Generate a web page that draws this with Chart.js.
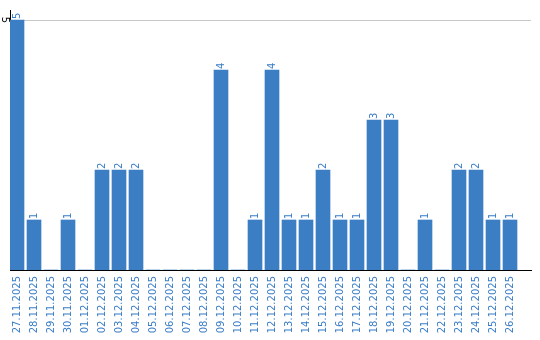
<!DOCTYPE html>
<html>
<head>
<meta charset="utf-8">
<script src="https://cdn.jsdelivr.net/npm/chart.js@4"></script>
<style>
html,body{margin:0;padding:0;background:#fff;}
#wrap{width:540px;height:340px;position:relative;}
</style>
</head>
<body>
<div id="wrap"><canvas id="c"></canvas></div>
<script>
const categories = ["27.11.2025","28.11.2025","29.11.2025","30.11.2025","01.12.2025","02.12.2025","03.12.2025","04.12.2025","05.12.2025","06.12.2025","07.12.2025","08.12.2025","09.12.2025","10.12.2025","11.12.2025","12.12.2025","13.12.2025","14.12.2025","15.12.2025","16.12.2025","17.12.2025","18.12.2025","19.12.2025","20.12.2025","21.12.2025","22.12.2025","23.12.2025","24.12.2025","25.12.2025","26.12.2025"];
const values = [5,1,0,1,0,2,2,2,0,0,0,0,4,0,1,4,1,1,2,1,1,3,3,0,1,0,2,2,1,1];
const yTicks = [5];

const BLUE = '#3b7ec4';
const LABEL_BLUE = '#3a7dc6';
const FONT = 'DejaVu Sans';

const dataLabels = {
  id: 'dataLabels',
  afterDatasetsDraw(chart) {
    const ctx = chart.ctx;
    const meta = chart.getDatasetMeta(0);
    ctx.save();
    ctx.font = '10px "' + FONT + '"';
    ctx.fillStyle = LABEL_BLUE;
    ctx.textAlign = 'left';
    ctx.textBaseline = 'middle';
    meta.data.forEach((el, i) => {
      const v = values[i];
      if (!v) return;
      ctx.save();
      ctx.translate(el.x, el.y - 1);
      ctx.rotate(-Math.PI / 2);
      ctx.fillText(String(v), 0, 0);
      ctx.restore();
    });
    // y tick labels, rotated clockwise, taken from the y scale
    const y = chart.scales.y;
    ctx.fillStyle = '#000';
    ctx.textAlign = 'center';
    ctx.textBaseline = 'middle';
    y.ticks.forEach(t => {
      ctx.save();
      ctx.translate(y.right - 5.5, y.getPixelForValue(t.value));
      ctx.rotate(Math.PI / 2);
      ctx.fillText(String(t.value), 0, 0);
      ctx.restore();
    });
    ctx.restore();
  }
};

new Chart(document.getElementById('c'), {
  type: 'bar',
  data: {
    datasets: [{
      data: values.map((v, i) => ({x: i, y: v})),
      backgroundColor: BLUE,
      borderWidth: 0,
      barThickness: 14
    }]
  },
  options: {
    responsive: true,
    maintainAspectRatio: false,
    animation: false,
    layout: {padding: {top: 10, right: 9, left: 0, bottom: 0}},
    plugins: {legend: {display: false}, tooltip: {enabled: false}},
    scales: {
      x: {
        type: 'linear',
        offset: false,
        min: -0.4118,
        max: 30.235,
        afterBuildTicks: s => { s.ticks = categories.map((_, i) => ({value: i})); },
        afterFit: s => { s.height = 70; s.paddingLeft = 0; s.paddingRight = 0; },
        grid: {display: false, drawTicks: false},
        border: {display: true, color: '#000', width: 1},
        ticks: {
          autoSkip: false,
          minRotation: 90,
          maxRotation: 90,
          padding: 6,
          color: LABEL_BLUE,
          font: {family: FONT, size: 10},
          callback: v => categories[v] !== undefined ? categories[v] : ''
        }
      },
      y: {
        min: 0,
        max: 5.2,
        afterBuildTicks: s => { s.ticks = yTicks.map(v => ({value: v})); },
        afterFit: s => { s.width = 10; },
        grid: {display: true, color: '#c8c8c8', drawTicks: false, lineWidth: 1},
        border: {display: true, color: '#000', width: 1},
        ticks: {
          display: false,
          font: {family: FONT, size: 10}
        }
      }
    }
  },
  plugins: [dataLabels]
});
</script>
</body>
</html>
